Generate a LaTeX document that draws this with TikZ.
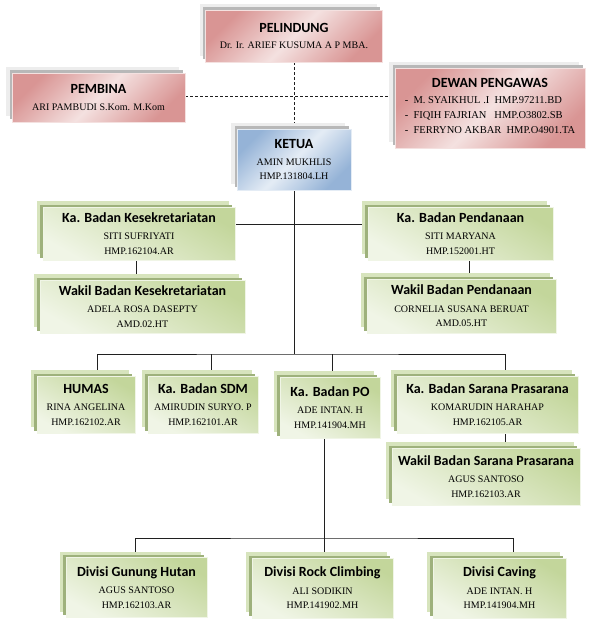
\documentclass[tikz,border=0pt]{standalone}
\usepackage{fontspec}
\setmainfont{Liberation Serif}
\newfontfamily\headfont{Carlito}
\usetikzlibrary{backgrounds, calc}
\definecolor{vpinkdk}{HTML}{D99594}
\definecolor{vpinklt}{HTML}{F4E1E0}
\definecolor{vbluedk}{HTML}{95B3D7}
\definecolor{vbluelt}{HTML}{E4ECF5}
\definecolor{vgreendk}{HTML}{C3D69B}
\definecolor{vgreenlt}{HTML}{F0F5E6}
\definecolor{vgreenbk}{HTML}{D7E4BD}
\definecolor{vgreenedge}{HTML}{9EB17C}
\definecolor{vgreylt}{HTML}{EDEDED}
\definecolor{vgreydk}{HTML}{B8B8B8}
\definecolor{vline}{HTML}{202020}
\newcommand{\ttl}[1]{{\headfont\bfseries\fontsize{14}{17}\selectfont #1}}
\tikzset{
  box/.style={rectangle, inner sep=0pt, align=center, text=black,
              font=\fontsize{10}{14.5}\selectfont},
  greyback/.style={preaction={fill=vgreylt, draw=none, transform canvas={shift={(-6pt,6pt)}}},
                   preaction={fill=vgreydk, draw=none, transform canvas={shift={(-2.5pt,3pt)}}}},
  greenback/.style={preaction={fill=vgreenbk, draw=none, transform canvas={shift={(-6pt,6pt)}}},
                    preaction={fill=vgreenedge, draw=none, transform canvas={shift={(-3pt,2.5pt)}}}},
  pinkbox/.style={box, greyback, postaction={draw=vpinklt, line width=0.6pt, left color=vpinkdk,
                  right color=vpinkdk, middle color=vpinklt, shading angle=45}},
  bluebox/.style={box, greyback, postaction={draw=vbluelt, line width=0.6pt, left color=vbluedk,
                  right color=vbluedk, middle color=vbluelt, shading angle=45}},
  greenbox/.style={box, greenback, postaction={draw=vgreenlt, line width=0.6pt, left color=vgreendk,
                   right color=vgreenlt, shading angle=-30}},
  link/.style={draw=vline, line width=0.9pt},
  dashline/.style={draw=vline, line width=1pt, dash pattern=on 3pt off 2pt}
}
\begin{document}
\begin{tikzpicture}[x=1pt, y=-1pt]
  \useasboundingbox (0,0) rectangle (591,630);
  % pembina, pelindung, dewan pengawas
  \node[pinkbox, minimum width=177, minimum height=52] (pelindung) at (294,36)
    {\ttl{PELINDUNG}\\[1.5pt] Dr. Ir. ARIEF KUSUMA A P MBA.};
  \node[pinkbox, minimum width=173, minimum height=49] (pembina) at (98.5,97.5)
    {\ttl{PEMBINA}\\[2.5pt] ARI PAMBUDI S.Kom. M.Kom};
  \node[pinkbox, minimum width=190, minimum height=80, font=\fontsize{10.5}{14.8}\selectfont] (dewan) at (490,108)
    {\ttl{DEWAN PENGAWAS}\\[2pt]
     \begin{tabular}[t]{@{}l@{}}
       -~~M. SYAIKHUL .I~~HMP.97211.BD\\
       -~~FIQIH FAJRIAN~~~HMP.O3802.SB\\
       -~~FERRYNO AKBAR~~HMP.O4901.TA
     \end{tabular}};
  \node[bluebox, minimum width=114, minimum height=61] (ketua) at (294,159.5)
    {\ttl{KETUA}\\[2.5pt] AMIN MUKHLIS\\ HMP.131804.LH};

  % badan kesekretariatan / pendanaan
  \node[greenbox, minimum width=192, minimum height=53] (kasek) at (139,233.5)
    {\ttl{Ka. Badan Kesekretariatan}\\[3pt] SITI SUFRIYATI\\ HMP.162104.AR};
  \node[greenbox, minimum width=205, minimum height=53] (wasek) at (142.5,306.5)
    {\ttl{Wakil Badan Kesekretariatan}\\[3pt] ADELA ROSA DASEPTY\\ AMD.02.HT};
  \node[greenbox, minimum width=185, minimum height=53] (kadana) at (460.5,233.5)
    {\ttl{Ka. Badan Pendanaan}\\[3pt] SITI MARYANA\\ HMP.152001.HT};
  \node[greenbox, minimum width=189, minimum height=54] (wadana) at (461.5,306)
    {\ttl{Wakil Badan Pendanaan}\\[3pt] CORNELIA SUSANA BERUAT\\ AMD.05.HT};

  % baris badan
  \node[greenbox, minimum width=98, minimum height=57] (humas) at (86,404.5)
    {\ttl{HUMAS}\\[3pt] RINA ANGELINA\\ HMP.162102.AR};
  \node[greenbox, minimum width=110, minimum height=57] (sdm) at (203,404.5)
    {\ttl{Ka. Badan SDM}\\[3pt] AMIRUDIN SURYO. P\\ HMP.162101.AR};
  \node[greenbox, minimum width=100, minimum height=61] (po) at (330,407.5)
    {\ttl{Ka. Badan PO}\\[3pt] ADE INTAN. H\\ HMP.141904.MH};
  \node[greenbox, minimum width=181, minimum height=57] (kasar) at (487.5,404.5)
    {\ttl{Ka. Badan Sarana Prasarana}\\[3pt] KOMARUDIN HARAHAP\\ HMP.162105.AR};
  \node[greenbox, minimum width=188, minimum height=57] (wasar) at (486,476.5)
    {\ttl{Wakil Badan Sarana Prasarana}\\[3pt] AGUS SANTOSO\\ HMP.162103.AR};

  % divisi
  \node[greenbox, minimum width=141, minimum height=60] (gunung) at (136.5,587.5)
    {\ttl{Divisi Gunung Hutan}\\[3pt] AGUS SANTOSO\\ HMP.162103.AR};
  \node[greenbox, minimum width=141, minimum height=60] (rock) at (322.5,588)
    {\ttl{Divisi Rock Climbing}\\[3pt] ALI SODIKIN\\ HMP.141902.MH};
  \node[greenbox, minimum width=133, minimum height=60] (caving) at (499.5,588)
    {\ttl{Divisi Caving}\\[3pt] ADE INTAN. H\\ HMP.141904.MH};

  \begin{scope}[on background layer]
    \fill[white] (0,0) rectangle (591,630);
    \draw[dashline] (pelindung.south) -- (ketua.north);
    \draw[dashline] (pembina.east |- 0,96) -- (dewan.west |- 0,96);
    \draw[link] (ketua.south) -- (ketua.south |- 0,354) coordinate (hub);
    \draw[link] (kasek.east |- 0,224) -- (kadana.west |- 0,224);
    \draw[link] (136,0 |- kasek.south) -- (136,0 |- wasek.north);
    \draw[link] (469,0 |- kadana.south) -- (469,0 |- wadana.north);
    \draw[link] (97,0 |- humas.north) |- (hub) -| (505,0 |- kasar.north);
    \draw[link] (211,0 |- hub) -- (211,0 |- sdm.north);
    \draw[link] (332,0 |- hub) -- (332,0 |- po.north);
    \draw[link] (505,0 |- kasar.south) -- (505,0 |- wasar.north);
    \draw[link] (324,0 |- po.south) -- (324,538) coordinate (hubdiv);
    \draw[link] (135,0 |- gunung.north) |- (hubdiv) -| (513,0 |- caving.north);
    \draw[link] (hubdiv) -- (324,0 |- rock.north);
  \end{scope}
\end{tikzpicture}
\end{document}
